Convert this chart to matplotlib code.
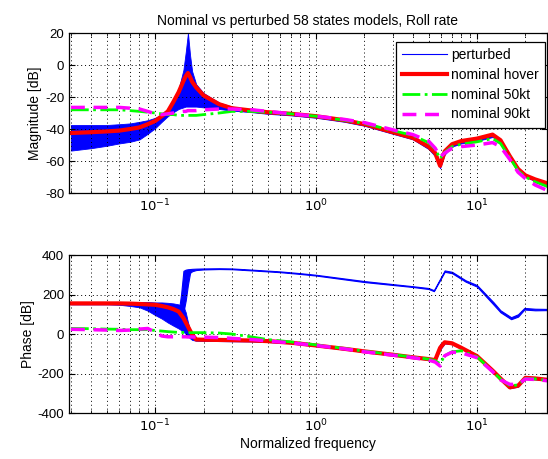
import numpy as np
import matplotlib
matplotlib.use('Agg')
from matplotlib import pyplot as plt
from matplotlib.lines import Line2D

plt.rcParams['font.family'] = ['Liberation Sans', 'DejaVu Sans']
plt.rcParams['font.size'] = 10
plt.rcParams['axes.unicode_minus'] = False

freq = [0.03, 0.04, 0.05, 0.06, 0.07, 0.08, 0.09, 0.10, 0.11, 0.12, 0.13, 0.14,
        0.15, 0.155, 0.16, 0.165, 0.17, 0.18, 0.2, 0.25, 0.3, 0.4, 0.5, 0.7,
        1.0, 1.5, 2.0, 3.0, 4.0, 5.0, 5.5, 5.9, 6.3, 7.0, 8.0, 10.0, 12.5,
        14.0, 16.0, 18.0, 20.0, 23.0, 27.5]

# magnitude [dB]
mag_hover = [-42.5, -42, -41.5, -41, -40, -39, -37, -35, -32, -29, -23, -17,
             -10, -7, -5, -7.5, -10.5, -14, -19, -24.5, -27, -28.5, -29.5, -30.5,
             -32, -34.5, -37, -42, -45.5, -51, -55, -63, -54, -49.5, -47.5, -46, -43.5,
             -47, -57, -65, -69, -71.5, -74]
mag_50kt = [-28, -28, -28, -28, -28.5, -29, -29.5, -30, -30.5, -31, -31, -31.5,
            -31.5, -31.5, -31.5, -31.5, -31.5, -31.5, -31, -30, -29, -29, -29.5, -30.5,
            -32, -34.5, -36.5, -41, -44, -48.5, -52.5, -58.5, -54.5, -51, -49.5, -48, -46,
            -49, -58, -66, -70, -73, -76]
mag_90kt = [-26.5, -26.5, -26.5, -26.5, -27, -27.5, -29, -30.5, -31, -30.5, -30, -29.5,
            -29, -29, -28.5, -28.5, -28.5, -28.5, -28, -27.5, -27.5, -28, -29, -30.5,
            -32, -34, -36, -40.5, -43.5, -47.5, -52, -57.5, -55, -52, -51, -50, -48.5,
            -51, -59, -67, -71, -75, -78.5]
mag_pert_hi = [-37.5, -37.5, -37.5, -37, -36.5, -35.5, -34.5, -33, -31, -28, -22, -15,
               -3, 8, 20, 6, -4, -12, -17.5, -23.5, -26, -28, -29, -30,
               -31.5, -34, -36.5, -41.5, -45, -50, -54, -61, -53, -49, -47, -45.5, -43,
               -46.5, -56, -64, -68.5, -71, -73.5]
mag_pert_lo = [-53.5, -52, -50.5, -49, -48, -46.5, -43, -39.5, -35.5, -32, -29.5, -27.5,
               -26.5, -26, -26, -26, -26, -26, -26.5, -27.5, -28.5, -29.5, -30.5, -31.5,
               -33, -35.5, -38, -43, -46.5, -52.5, -57, -64.5, -56, -51, -49, -47.5, -45,
               -48.5, -58, -66, -70, -72.5, -75]

# phase [deg]
ph_hover = [155, 155, 155, 155, 154, 152, 150, 148, 142, 135, 126, 114,
            81, 59, 38, 17, -3, -28, -29, -30, -31, -33, -36, -44,
            -58, -75, -88, -105, -118, -127, -132, -70, -42, -47, -70, -112, -185,
            -225, -270, -262, -222, -225, -232]
ph_50kt = [28, 27, 25, 24, 22, 22, 22, 18, 15, 12, 10, 8,
           8, 7, 7, 7, 7, 7, 7, 5, 0, -15, -28, -40,
           -55, -73, -87, -104, -117, -127, -135, -150, -110, -90, -85, -115, -188,
           -228, -262, -258, -225, -227, -235]
ph_90kt = [24, 22, 20, 18, 20, 25, 28, 10, -10, -14, -14, -14,
           -14, -14, -15, -15, -15, -15, -16, -18, -22, -28, -35, -45,
           -58, -75, -90, -107, -120, -132, -142, -162, -110, -92, -95, -120, -190,
           -232, -255, -255, -228, -230, -237]
ph_pert_hi = [162, 162, 162, 162, 162, 162, 162, 160, 160, 158, 155, 150,
              140, 110, 60, 20, 0, -22, -24, -25, -26, -28, -31, -39,
              -53, -70, -83, -100, -113, -122, -125, -50, -36, -42, -65, -107, -180,
              -220, -265, -257, -217, -220, -228]
ph_pert_lo = [150, 150, 150, 148, 142, 135, 118, 96, 78, 58, 42, 28,
              12, 0, -12, -22, -30, -34, -35, -36, -37, -38, -41, -48,
              -62, -79, -92, -109, -122, -131, -136, -80, -48, -52, -75, -117, -190,
              -230, -275, -267, -227, -230, -236]

# perturbed models whose phase wraps upward
freq_up = [0.14, 0.145, 0.15, 0.155, 0.16, 0.165, 0.17, 0.18, 0.2, 0.25, 0.3, 0.4,
           0.6, 0.8, 1.0, 2.0, 4.0, 5.0, 5.4, 6.3, 7.0, 8.5, 10.0, 12.7, 14.0,
           16.3, 18.0, 19.7, 23.0, 27.5]
ph_up_hi = [110, 200, 320, 326, 328, 329, 330, 331, 332, 333, 332, 326,
            317, 308, 300, 268, 242, 233, 222, 322, 315, 272, 248, 160, 120,
            85, 100, 132, 128, 127]
ph_up_lo = [110, 110, 110, 170, 250, 310, 318, 324, 327, 329, 328, 322,
            313, 304, 296, 263, 238, 228, 217, 315, 308, 265, 240, 148, 110,
            75, 88, 124, 120, 121]

fig = plt.figure(figsize=(5.48, 4.59), dpi=100)
ax1 = fig.add_axes([0.126, 0.5795, 0.872, 0.3486])
ax2 = fig.add_axes([0.126, 0.1002, 0.872, 0.3442])

blue = (0, 0, 1)
red = (1, 0, 0)
green = (0, 1, 0)
magenta = (1, 0, 1)

ax1.fill_between(freq, mag_pert_lo, mag_pert_hi, color=blue, lw=0.6)
ax1.plot(freq, mag_hover, color=red, lw=3)
ax1.plot(freq, mag_50kt, color=green, lw=2, ls='-.')
ax1.plot(freq, mag_90kt, color=magenta, lw=2.5, ls=(0, (4, 2.5)))

ax2.fill_between(freq, ph_pert_lo, ph_pert_hi, color=blue, lw=0.6)
ax2.fill_between(freq_up, ph_up_lo, ph_up_hi, color=blue, lw=0.8)
ax2.plot(freq, ph_hover, color=red, lw=3)
ax2.plot(freq, ph_50kt, color=green, lw=2, ls='-.')
ax2.plot(freq, ph_90kt, color=magenta, lw=2.5, ls=(0, (4, 2.5)))

for ax in (ax1, ax2):
    ax.set_xscale('log')
    ax.set_xlim(0.0292, 27.2)
    ax.set_xticks([0.1, 1, 10])
    ax.set_xticklabels([r'$10^{-1}$', r'$10^{0}$', r'$10^{1}$'])
    ax.grid(True, which='major', ls=(0, (1, 3)), color='k', lw=0.7)
    ax.grid(True, which='minor', axis='x', ls=(0, (1, 3)), color='k', lw=0.7)
    ax.tick_params(which='both', direction='in', top=True, right=True, labelsize=9.5)
    ax.tick_params(which='major', length=4)
    ax.tick_params(which='minor', length=2)
    for s in ax.spines.values():
        s.set_linewidth(0.9)

ax1.set_ylim(-80, 20)
ax1.set_yticks(range(-80, 21, 20))
ax1.set_ylabel('Magnitude [dB]', labelpad=2)
ax1.set_title('Nominal vs perturbed 58 states models, Roll rate', fontsize=10, pad=6)

ax2.set_ylim(-400, 400)
ax2.set_yticks(range(-400, 401, 200))
ax2.set_ylabel('Phase [dB]', labelpad=2)
ax2.set_xlabel('Normalized frequency', labelpad=2)

handles = [Line2D([], [], color=blue, lw=0.8),
           Line2D([], [], color=red, lw=3),
           Line2D([], [], color=green, lw=2, ls='-.'),
           Line2D([], [], color=magenta, lw=2.5, ls=(0, (4, 2.5)))]
labels = ['perturbed', 'nominal hover', 'nominal 50kt', 'nominal 90kt']
leg = ax1.legend(handles, labels, loc='upper right', bbox_to_anchor=(0.996, 0.946),
                 borderaxespad=0, fancybox=False, framealpha=1, edgecolor='k',
                 fontsize=10, handlelength=3.2, borderpad=0.45, labelspacing=0.42,
                 handletextpad=0.3)
leg.get_frame().set_linewidth(0.9)

fig.savefig('out.png', dpi=100)
